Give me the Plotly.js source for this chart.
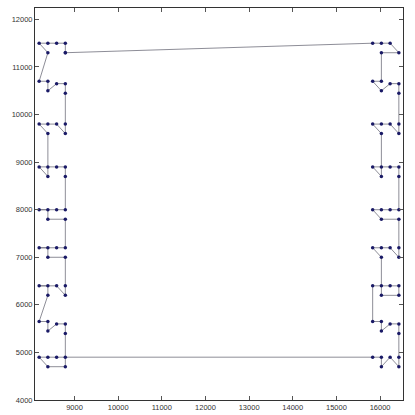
<!DOCTYPE html>
<html>
<head>
<meta charset="utf-8">
<script src="https://cdn.plot.ly/plotly-3.0.1.min.js"></script>
<style>html,body{margin:0;padding:0;background:#fff;}#chart{width:415px;height:415px;}</style>
</head>
<body>
<div id="chart"></div>
<script>
// Column x positions of the two point clusters
const leftCols = [8190, 8390, 8590, 8790];
const rightCols = [15830, 16030, 16230, 16430];

// Tour through the left cluster: [column index, y]
const leftTourCol = [3,3,2,1,0,1, 0,1,1,2,3,3, 3,3,2,1,0,1, 1,0,1,2,3,3, 3,2,0,1,1,3, 3,2,0,1,1,3, 3,3,2,0,1,1, 0,1,1,2,3,3, 3,1,0,1,2,3];
const leftTourY = [11300,11500,11500,11500,11500,11300, 10700,10700,10500,10650,10650,10450, 9800,9600,9800,9800,9800,9600, 8700,8900,8900,8900,8900,8700, 8000,8000,8000,8000,7800,7800, 7200,7200,7200,7200,7000,7000, 6400,6200,6400,6400,6400,6200, 5650,5650,5450,5600,5600,5400, 4700,4700,4900,4900,4900,4900];

// Tour through the right cluster: [column index, y]
const rightTourCol = [0,1,1,2,3,3, 3,3,2,1,1,0, 0,1,2,3,3,1, 1,0,1,2,3,3, 3,1,0,1,2,3, 3,3,2,1,0,1, 1,0,1,2,3,3, 3,3,2,1,0,1, 1,3,2,1,0];
const rightTourY = [4900,4900,4700,4900,4700,4900, 5400,5600,5600,5450,5650,5650, 6400,6400,6400,6400,6200,6200, 7000,7200,7200,7200,7000,7200, 7800,7800,8000,8000,8000,8000, 8700,8900,8900,8900,8900,8700, 9600,9800,9800,9800,9600,9800, 10450,10650,10650,10500,10700,10700, 11300,11300,11500,11500,11500];

const xTicks = [9000, 10000, 11000, 12000, 13000, 14000, 15000, 16000];
const yTicks = [4000, 5000, 6000, 7000, 8000, 9000, 10000, 11000, 12000];

const tourX = [], tourY = [];
leftTourCol.forEach((c, i) => { tourX.push(leftCols[c]); tourY.push(leftTourY[i]); });
rightTourCol.forEach((c, i) => { tourX.push(rightCols[c]); tourY.push(rightTourY[i]); });
tourX.push(tourX[0]); tourY.push(tourY[0]);

const trace = {
  x: tourX, y: tourY, type: 'scatter', mode: 'lines+markers',
  line: {color: '#70707c', width: 0.8},
  marker: {color: '#1a1a66', size: 3.5, symbol: 'circle'},
  hoverinfo: 'x+y'
};

const axisCommon = {
  showline: true, mirror: 'ticks', linecolor: '#333', linewidth: 1,
  ticks: 'inside', ticklen: 4, tickcolor: '#555', tickwidth: 1,
  showgrid: false, zeroline: false,
  tickfont: {family: 'Liberation Sans, Arial, sans-serif', size: 7.5, color: '#333333'}
};

const layout = {
  width: 415, height: 415,
  margin: {l: 35, r: 12, t: 8, b: 15},
  paper_bgcolor: '#fff', plot_bgcolor: '#fff',
  showlegend: false,
  xaxis: Object.assign({}, axisCommon, {range: [8095, 16525], tickvals: xTicks, ticktext: xTicks.map(String)}),
  yaxis: Object.assign({}, axisCommon, {range: [4000, 12240], tickvals: yTicks, ticktext: yTicks.map(String)})
};

Plotly.newPlot('chart', [trace], layout, {displayModeBar: false, staticPlot: true});
</script>
</body>
</html>
